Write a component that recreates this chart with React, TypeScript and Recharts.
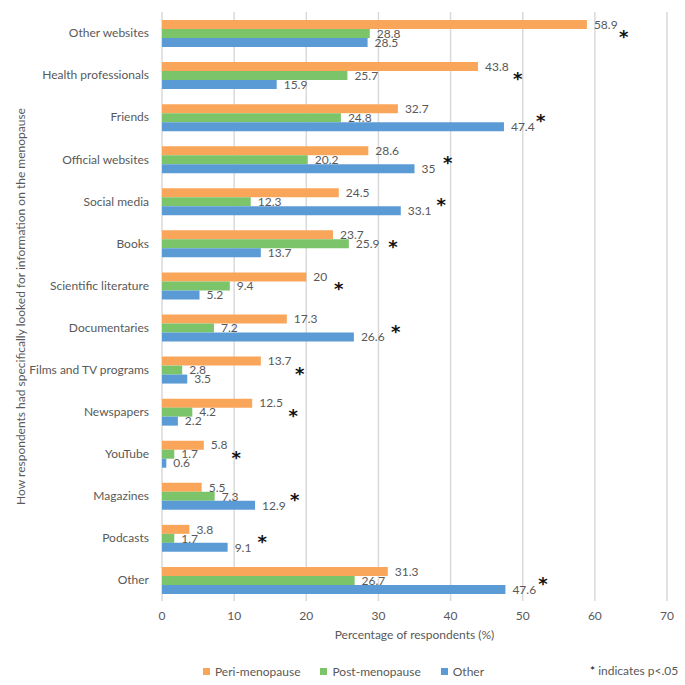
import React from 'react';
import {
  ComposedChart,
  Bar,
  XAxis,
  YAxis,
  CartesianGrid,
  Legend,
  LabelList,
  Scatter,
} from 'recharts';

const categories = [
  'Other websites',
  'Health professionals',
  'Friends',
  'Official websites',
  'Social media',
  'Books',
  'Scientific literature',
  'Documentaries',
  'Films and TV programs',
  'Newspapers',
  'YouTube',
  'Magazines',
  'Podcasts',
  'Other',
];
const periValues = [58.9, 43.8, 32.7, 28.6, 24.5, 23.7, 20, 17.3, 13.7, 12.5, 5.8, 5.5, 3.8, 31.3];
const postValues = [28.8, 25.7, 24.8, 20.2, 12.3, 25.9, 9.4, 7.2, 2.8, 4.2, 1.7, 7.3, 1.7, 26.7];
const otherValues = [28.5, 15.9, 47.4, 35, 33.1, 13.7, 5.2, 26.6, 3.5, 2.2, 0.6, 12.9, 9.1, 47.6];
// x position (in % units) where each significance asterisk sits
const starPositions = [64.0, 49.3, 52.5, 39.6, 38.7, 32.0, 24.5, 32.4, 19.1, 18.2, 10.3, 18.4, 13.9, 52.8];
const xTicks = [0, 10, 20, 30, 40, 50, 60, 70];

const seriesNames = ['Peri-menopause', 'Post-menopause', 'Other'];
const seriesKeys = ['peri', 'post', 'other'];
const seriesColors = ['#F9A65A', '#7CC46A', '#5B9BD5'];

const data = categories.map((name, i) => ({
  name,
  peri: periValues[i],
  post: postValues[i],
  other: otherValues[i],
  star: starPositions[i],
}));

const FONT = 'Lato, "Liberation Sans", sans-serif';
const FS = 12;
const TEXT = '#595959';

const renderLegend = (props: any) => {
  const payload = props.payload || [];
  const items = seriesNames
    .map((n) => payload.find((p: any) => p.value === n))
    .filter(Boolean);
  return (
    <div style={{ position: 'relative', height: 20, fontFamily: FONT, fontSize: FS, color: TEXT, whiteSpace: 'nowrap' }}>
      <div
        style={{
          display: 'flex',
          justifyContent: 'center',
          alignItems: 'center',
          height: 20,
          paddingLeft: 40,
        }}
      >
        {items.map((p: any) => (
          <div key={p.value} style={{ display: 'flex', alignItems: 'center', marginRight: 20 }}>
            <span style={{ display: 'inline-block', width: 7, height: 7, background: p.color, marginRight: 5 }} />
            <span>{p.value}</span>
          </div>
        ))}
      </div>
      <div style={{ position: 'absolute', left: 590, top: 0, height: 20, lineHeight: '20px', whiteSpace: 'nowrap' }}>
        <span style={{ color: '#000' }}>*</span> indicates p&lt;.05
      </div>
    </div>
  );
};

const StarShape = (p: any) => (
  <text
    x={p.cx}
    y={p.cy + 10}
    textAnchor="middle"
    fontSize={18}
    fontWeight="bold"
    fontFamily="DejaVu Sans, sans-serif"
    fill="#111"
  >
    *
  </text>
);

const YTitle = (props: any) => {
  const vb = props.viewBox || {};
  const cy = vb.y + vb.height / 2;
  return (
    <text
      x={20}
      y={cy}
      transform={`rotate(-90, 20, ${cy})`}
      textAnchor="middle"
      dominantBaseline="central"
      fontSize={FS}
      fontFamily={FONT}
      fill={TEXT}
    >
      How respondents had specifically looked for information on the menopause
    </text>
  );
};

export default function App() {
  return (
    <div style={{ position: 'absolute', left: 0, top: 0, background: '#fff' }}>
      <ComposedChart
        width={685}
        height={685}
        data={data}
        layout="vertical"
        margin={{ top: 12, right: 18, bottom: 4, left: 0 }}
        barGap={0}
        barSize={9}
      >
        <CartesianGrid horizontal={false} stroke="#d9d9d9" strokeWidth={1.5} />
        <XAxis
          type="number"
          domain={[0, 70]}
          ticks={xTicks}
          axisLine={false}
          tickLine={false}
          tickSize={0}
          tickMargin={10}
          height={60}
          tick={{ fontSize: FS, fill: TEXT, fontFamily: FONT }}
          label={{
            value: 'Percentage of respondents (%)',
            position: 'insideTop',
            offset: 29,
            fontSize: FS,
            fill: TEXT,
            fontFamily: FONT,
          }}
        />
        <YAxis
          type="category"
          dataKey="name"
          width={162}
          axisLine={false}
          tickLine={false}
          tickSize={0}
          tickMargin={13}
          interval={0}
          tick={{ fontSize: FS, fill: TEXT, fontFamily: FONT }}
          label={<YTitle />}
        />
        {seriesKeys.map((k, i) => (
          <Bar key={k} dataKey={k} name={seriesNames[i]} fill={seriesColors[i]} isAnimationActive={false}>
            <LabelList
              dataKey={k}
              position="right"
              offset={7}
              style={{ fontSize: FS, fill: TEXT, fontFamily: FONT }}
            />
          </Bar>
        ))}
        <Scatter dataKey="star" legendType="none" shape={<StarShape />} isAnimationActive={false} />
        <Legend verticalAlign="bottom" content={renderLegend} />
      </ComposedChart>
    </div>
  );
}
